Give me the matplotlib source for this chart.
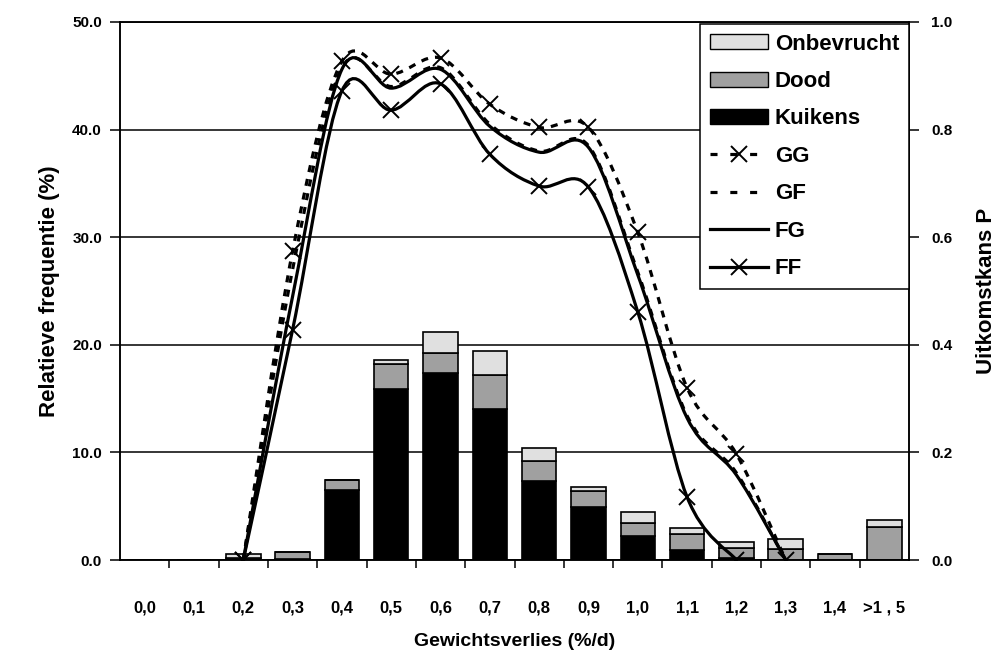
#!/usr/bin/env python3
"""
Relatieve frequentie van gewichtsverlies (staafjes) met uitkomstkansen (lijnen)
"""
import numpy as np
import matplotlib
matplotlib.use("Agg")
import matplotlib.pyplot as plt
from matplotlib.path import Path
from matplotlib.patches import PathPatch, Patch
from matplotlib.lines import Line2D

# categorieen op de x-as
klassen = ['0,0', '0,1', '0,2', '0,3', '0,4', '0,5', '0,6', '0,7',
           '0,8', '0,9', '1,0', '1,1', '1,2', '1,3', '1,4', '>1 , 5']

# gestapelde staafjes (%)
kuikens    = [0, 0, 0.0, 0.1, 6.5, 15.9, 17.4, 14.0, 7.35, 4.95, 2.25, 0.95, 0.2, 0.0, 0.0, 0.0]
dood       = [0, 0, 0.2, 0.6, 0.95, 2.3, 1.8, 3.2, 1.85, 1.45, 1.2, 1.45, 0.9, 1.05, 0.55, 3.1]
onbevrucht = [0, 0, 0.35, 0.0, 0.0, 0.4, 2.0, 2.2, 1.2, 0.4, 1.0, 0.55, 0.55, 0.9, 0.0, 0.6]

# uitkomstkansen P (rechter as), x = index van de klasse
x_gg = [2, 3, 4, 5, 6, 7, 8, 9, 10, 11, 12, 13]
p_gg = [0.0, 0.574, 0.927, 0.903, 0.933, 0.847, 0.804, 0.804, 0.609, 0.32, 0.197, 0.0]
x_gf = [2, 3, 4, 5, 6, 7, 8, 9, 10, 11, 12, 13]
p_gf = [0.0, 0.54, 0.915, 0.88, 0.915, 0.81, 0.76, 0.77, 0.535, 0.268, 0.162, 0.0]
x_fg = [2, 3, 4, 5, 6, 7, 8, 9, 10, 11, 12, 13]
p_fg = [0.0, 0.49, 0.912, 0.877, 0.912, 0.806, 0.758, 0.767, 0.53, 0.264, 0.158, 0.0]
x_ff = [2, 3, 4, 5, 6, 7, 8, 9, 10, 11, 12]
p_ff = [0.0, 0.428, 0.872, 0.836, 0.885, 0.754, 0.695, 0.693, 0.461, 0.117, 0.0]

plt.rcParams['font.family'] = ['Liberation Sans', 'DejaVu Sans']
plt.rcParams['font.weight'] = 'bold'
plt.rcParams['axes.labelweight'] = 'bold'


def glad_pad(xs, ys):
    """ vloeiende lijn door de punten (zoals Excel 'smoothed line') """
    pts = np.column_stack([xs, ys]).astype(float)
    n = len(pts)
    verts = [pts[0]]
    codes = [Path.MOVETO]
    for i in range(n - 1):
        p_prev = pts[max(i - 1, 0)]
        p0 = pts[i]
        p1 = pts[i + 1]
        p_next = pts[min(i + 2, n - 1)]
        verts += [p0 + (p1 - p_prev) / 6, p1 - (p_next - p0) / 6, p1]
        codes += [Path.CURVE4] * 3
    return Path(verts, codes)


def main():
    fig = plt.figure(figsize=(10, 6.56), dpi=100)
    ax = fig.add_axes([0.12, 0.1463, 0.789, 0.8202])
    ax2 = ax.twinx()

    pos = np.arange(len(klassen))
    kuik = np.array(kuikens)
    dd = np.array(dood)
    onb = np.array(onbevrucht)
    bw = 0.7
    ax.bar(pos, kuik, bw, color='black', edgecolor='black', lw=1.2)
    ax.bar(pos, dd, bw, bottom=kuik, color='#a0a0a0', edgecolor='black', lw=1.2)
    ax.bar(pos, onb, bw, bottom=kuik + dd, color='#e0e0e0', edgecolor='black', lw=1.2)

    ax.set_xlim(-0.5, len(klassen) - 0.5)
    ax.set_ylim(0, 50)
    ax.set_yticks(np.arange(0, 51, 10))
    ax.set_yticklabels([f'{v:.1f}' for v in np.arange(0, 51, 10)], fontsize=11)
    ax.yaxis.grid(True, color='black', lw=1.1)
    ax.set_axisbelow(True)
    ax.tick_params(axis='y', direction='out', length=7, width=1.1, pad=6)

    # labels in het midden, streepjes tussen de klassen
    ax.set_xticks(pos)
    ax.set_xticklabels(klassen, fontsize=12)
    ax.tick_params(axis='x', which='major', length=0, pad=29)
    ax.set_xticks(np.arange(0.5, len(klassen) - 0.5, 1), minor=True)
    ax.tick_params(axis='x', which='minor', direction='out', length=6, width=1.1)

    for sp in ax.spines.values():
        sp.set_linewidth(1.1)
    for sp in ax2.spines.values():
        sp.set_linewidth(1.1)

    ax.set_ylabel('Relatieve frequentie (%)', fontsize=16, fontweight='bold', labelpad=9)
    ax.set_xlabel('Gewichtsverlies (%/d)', fontsize=14, fontweight='bold', labelpad=13)

    # lijnen op de rechter as
    ax2.set_ylim(0, 1)
    ax2.set_yticks(np.arange(0, 1.01, 0.2))
    ax2.set_yticklabels([f'{v:.1f}' for v in np.arange(0, 1.01, 0.2)], fontsize=11)
    ax2.tick_params(axis='y', direction='out', length=7, width=1.1, pad=9)
    ax2.set_ylabel('Uitkomstkans P', fontsize=16, fontweight='bold', labelpad=17)

    stippel = (0, (2.2, 2.2))
    reeksen = [(x_gg, p_gg, stippel, True),
               (x_gf, p_gf, stippel, False),
               (x_fg, p_fg, 'solid', False),
               (x_ff, p_ff, 'solid', True)]
    for xs, ps, ls, kruis in reeksen:
        ax2.add_patch(PathPatch(glad_pad(xs, ps), fill=False, edgecolor='black',
                                lw=2.3, linestyle=ls, capstyle='butt'))
        if kruis:
            ax2.plot(xs, ps, linestyle='none', marker='x', color='black',
                     markersize=11, markeredgewidth=1.4)

    handles = [Patch(facecolor='#e0e0e0', edgecolor='black', label='Onbevrucht'),
               Patch(facecolor='#a0a0a0', edgecolor='black', label='Dood'),
               Patch(facecolor='black', edgecolor='black', label='Kuikens'),
               Line2D([], [], color='black', lw=2.3, ls=(0, (2.2, 4)), marker='x',
                      markersize=11, markeredgewidth=1.4, label='GG'),
               Line2D([], [], color='black', lw=2.3, ls=(0, (2.2, 4)), label='GF'),
               Line2D([], [], color='black', lw=2.3, label='FG'),
               Line2D([], [], color='black', lw=2.3, marker='x', markersize=11,
                      markeredgewidth=1.4, label='FF')]
    leg = ax2.legend(handles=handles, loc='upper right', bbox_to_anchor=(1.0, 0.997),
                     borderaxespad=0, fancybox=False, framealpha=1, edgecolor='black',
                     prop={'size': 16, 'weight': 'bold'}, handlelength=2.6,
                     handleheight=0.65, handletextpad=0.3, labelspacing=0.74,
                     borderpad=0.45)
    leg.get_frame().set_linewidth(1.1)

    fig.savefig('out.png', dpi=100)


if __name__ == "__main__":
    main()
